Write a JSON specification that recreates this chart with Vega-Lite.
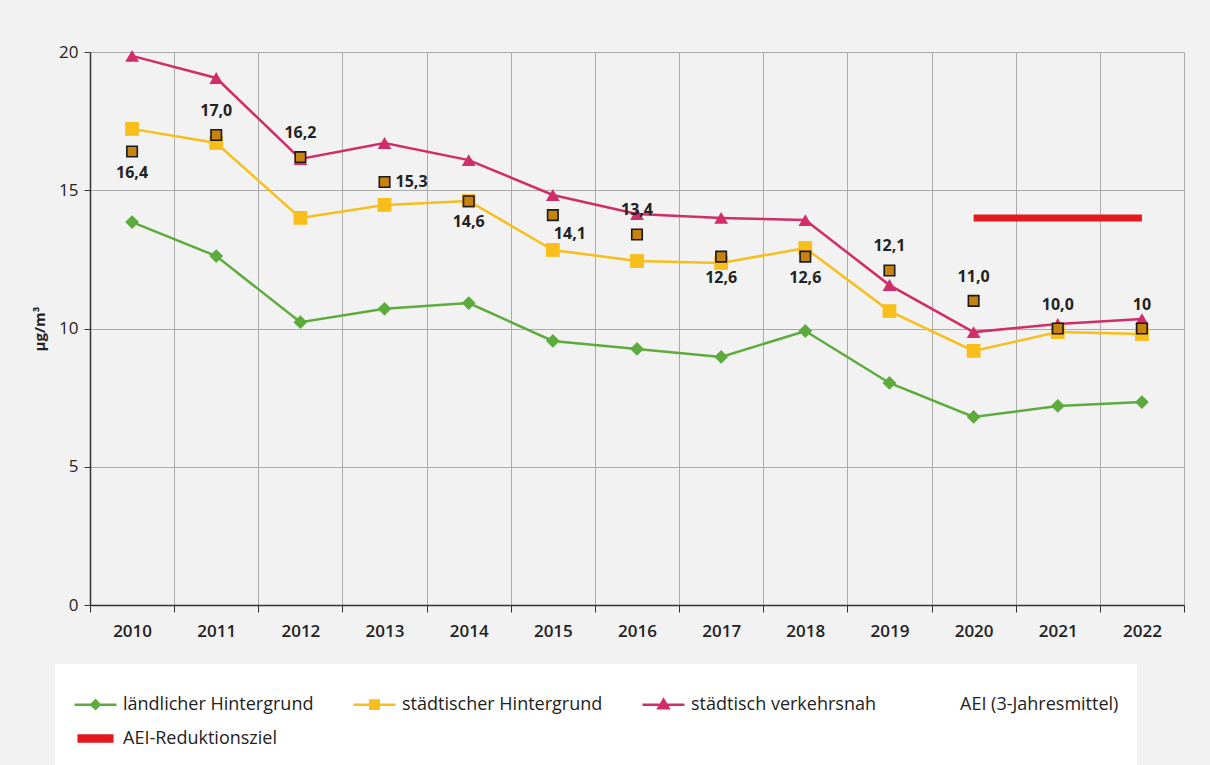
{
  "$schema": "https://vega.github.io/schema/vega-lite/v6.json",
  "width": 1094,
  "height": 553,
  "autosize": {"type": "none"},
  "padding": {"left": 90, "top": 52, "right": 26, "bottom": 160},
  "background": "#f2f2f2",
  "config": {
    "view": {"stroke": null, "fill": "#f2f2f2"},
    "font": "Open Sans"
  },
  "datasets": {
    "series": [
      {"year": "2010", "series": "ländlicher Hintergrund", "value": 13.85},
      {"year": "2011", "series": "ländlicher Hintergrund", "value": 12.62},
      {"year": "2012", "series": "ländlicher Hintergrund", "value": 10.23},
      {"year": "2013", "series": "ländlicher Hintergrund", "value": 10.71},
      {"year": "2014", "series": "ländlicher Hintergrund", "value": 10.92},
      {"year": "2015", "series": "ländlicher Hintergrund", "value": 9.55},
      {"year": "2016", "series": "ländlicher Hintergrund", "value": 9.26},
      {"year": "2017", "series": "ländlicher Hintergrund", "value": 8.97},
      {"year": "2018", "series": "ländlicher Hintergrund", "value": 9.91},
      {"year": "2019", "series": "ländlicher Hintergrund", "value": 8.03},
      {"year": "2020", "series": "ländlicher Hintergrund", "value": 6.8},
      {"year": "2021", "series": "ländlicher Hintergrund", "value": 7.2},
      {"year": "2022", "series": "ländlicher Hintergrund", "value": 7.34},
      {"year": "2010", "series": "städtischer Hintergrund", "value": 17.22},
      {"year": "2011", "series": "städtischer Hintergrund", "value": 16.71},
      {"year": "2012", "series": "städtischer Hintergrund", "value": 14.0},
      {"year": "2013", "series": "städtischer Hintergrund", "value": 14.47},
      {"year": "2014", "series": "städtischer Hintergrund", "value": 14.61},
      {"year": "2015", "series": "städtischer Hintergrund", "value": 12.84},
      {"year": "2016", "series": "städtischer Hintergrund", "value": 12.44},
      {"year": "2017", "series": "städtischer Hintergrund", "value": 12.37},
      {"year": "2018", "series": "städtischer Hintergrund", "value": 12.91},
      {"year": "2019", "series": "städtischer Hintergrund", "value": 10.63},
      {"year": "2020", "series": "städtischer Hintergrund", "value": 9.19},
      {"year": "2021", "series": "städtischer Hintergrund", "value": 9.87},
      {"year": "2022", "series": "städtischer Hintergrund", "value": 9.8},
      {"year": "2010", "series": "städtisch verkehrsnah", "value": 19.86},
      {"year": "2011", "series": "städtisch verkehrsnah", "value": 19.06},
      {"year": "2012", "series": "städtisch verkehrsnah", "value": 16.13},
      {"year": "2013", "series": "städtisch verkehrsnah", "value": 16.71},
      {"year": "2014", "series": "städtisch verkehrsnah", "value": 16.09},
      {"year": "2015", "series": "städtisch verkehrsnah", "value": 14.83},
      {"year": "2016", "series": "städtisch verkehrsnah", "value": 14.14},
      {"year": "2017", "series": "städtisch verkehrsnah", "value": 14.0},
      {"year": "2018", "series": "städtisch verkehrsnah", "value": 13.92},
      {"year": "2019", "series": "städtisch verkehrsnah", "value": 11.57},
      {"year": "2020", "series": "städtisch verkehrsnah", "value": 9.87},
      {"year": "2021", "series": "städtisch verkehrsnah", "value": 10.16},
      {"year": "2022", "series": "städtisch verkehrsnah", "value": 10.34}
    ],
    "aei": [
      {"year": "2010", "aei": 16.4, "label": "16,4"},
      {"year": "2011", "aei": 17.0, "label": "17,0"},
      {"year": "2012", "aei": 16.2, "label": "16,2"},
      {"year": "2013", "aei": 15.3, "label": "15,3"},
      {"year": "2014", "aei": 14.6, "label": "14,6"},
      {"year": "2015", "aei": 14.1, "label": "14,1"},
      {"year": "2016", "aei": 13.4, "label": "13,4"},
      {"year": "2017", "aei": 12.6, "label": "12,6"},
      {"year": "2018", "aei": 12.6, "label": "12,6"},
      {"year": "2019", "aei": 12.1, "label": "12,1"},
      {"year": "2020", "aei": 11.0, "label": "11,0"},
      {"year": "2021", "aei": 10.0, "label": "10,0"},
      {"year": "2022", "aei": 10.0, "label": "10"}
    ],
    "target": [
      {"year": "2020", "year2": "2022", "value": 14.0, "series": "AEI-Reduktionsziel"}
    ]
  },
  "encoding": {
    "x": {
      "field": "year", "type": "ordinal", "bandPosition": 0.5,
      "scale": {"type": "band", "paddingInner": 0, "paddingOuter": 0},
      "axis": {
        "title": null, "labelAngle": 0, "tickBand": "extent",
        "grid": true, "gridColor": "#ababab", "gridWidth": 1,
        "domainColor": "#333333", "domainWidth": 1.5,
        "tickColor": "#333333", "tickSize": 7, "tickWidth": 1,
        "labelFont": "Open Sans", "labelFontSize": 17, "labelFontWeight": 600,
        "labelColor": "#222222", "labelPadding": 11
      }
    }
  },
  "layer": [
    {
      "data": {"name": "series"},
      "mark": {"type": "line", "strokeWidth": 2.5},
      "encoding": {
        "y": {
          "field": "value", "type": "quantitative",
          "scale": {"domain": [0, 20], "nice": false},
          "axis": {
            "title": "µg/m³", "values": [0, 5, 10, 15, 20],
            "grid": true, "gridColor": "#ababab", "gridWidth": 1,
            "domainColor": "#333333", "domainWidth": 1.5,
            "tickColor": "#333333", "tickSize": 6,
            "labelFont": "Open Sans", "labelFontSize": 17, "labelFontWeight": 500,
            "labelColor": "#222222", "labelPadding": 6,
            "titleFont": "Open Sans", "titleFontSize": 15, "titleFontWeight": "bold",
            "titleColor": "#222222", "titlePadding": 11
          }
        },
        "color": {
          "field": "series", "type": "nominal",
          "scale": {
            "domain": ["ländlicher Hintergrund", "städtischer Hintergrund", "städtisch verkehrsnah", "AEI (3-Jahresmittel)", "AEI-Reduktionsziel"],
            "range": ["#5cab3c", "#f7be1c", "#d02d69", "rgba(0,0,0,0)", "#e3191c"]
          },
          "legend": {
            "title": null, "orient": "none", "legendX": -35, "legendY": 612,
            "direction": "horizontal", "columns": 4, "columnPadding": 34, "rowPadding": 2,
            "fillColor": "#ffffff", "padding": 18,
            "symbolSize": 1764, "symbolStrokeWidth": 2.5, "labelOffset": 5,
            "labelFont": "Open Sans", "labelFontSize": 18, "labelColor": "#222222",
            "labelLimit": 400,
            "encode": {
              "symbols": {
                "update": {
                  "shape": {"signal": "datum.index === 0 ? 'M-1,0H1M0,-0.2L0.2,0L0,0.2L-0.2,0Z' : datum.index === 1 ? 'M-1,0H1M-0.2,-0.2H0.2V0.2H-0.2Z' : datum.index === 2 ? 'M-1,0H1M0,-0.24L0.24,0.17H-0.24Z' : datum.index === 4 ? 'M-0.8,-0.14H0.8V0.14H-0.8Z' : 'M0,0'"},
                  "fill": {"scale": "color", "field": "value"},
                  "stroke": {"scale": "color", "field": "value"},
                  "strokeWidth": {"value": 2.5},
                  "opacity": {"value": 1}
                }
              }
            }
          }
        }
      }
    },
    {
      "data": {"name": "series"},
      "mark": {"type": "point", "filled": true, "opacity": 1, "size": 190},
      "encoding": {
        "y": {"field": "value", "type": "quantitative"},
        "color": {"field": "series", "type": "nominal"},
        "shape": {
          "field": "series", "type": "nominal",
          "scale": {"domain": ["ländlicher Hintergrund", "städtischer Hintergrund", "städtisch verkehrsnah"], "range": ["diamond", "square", "triangle-up"]},
          "legend": null
        }
      }
    },
    {
      "data": {"name": "target"},
      "mark": {"type": "rule", "strokeWidth": 7},
      "encoding": {
        "x": {"field": "year", "type": "ordinal", "bandPosition": 0.5},
        "x2": {"field": "year2", "bandPosition": 0.5},
        "y": {"field": "value", "type": "quantitative"},
        "color": {"field": "series", "type": "nominal"}
      }
    },
    {
      "data": {"name": "aei"},
      "mark": {"type": "square", "filled": true, "fill": "#c8820f", "stroke": "#1a1a1a", "strokeWidth": 1.6, "opacity": 1, "size": 110},
      "encoding": {
        "y": {"field": "aei", "type": "quantitative"}
      }
    },
    {
      "data": {"name": "aei"},
      "transform": [{"filter": {"field": "year", "oneOf": ["2011", "2012", "2016", "2019", "2020", "2021", "2022"]}}],
      "mark": {"type": "text", "dy": -24, "fontSize": 16, "fontWeight": "bold", "font": "Open Sans", "color": "#222222"},
      "encoding": {
        "y": {"field": "aei", "type": "quantitative"},
        "text": {"field": "label"}
      }
    },
    {
      "data": {"name": "aei"},
      "transform": [{"filter": {"field": "year", "oneOf": ["2010", "2014", "2017", "2018"]}}],
      "mark": {"type": "text", "dy": 21, "fontSize": 16, "fontWeight": "bold", "font": "Open Sans", "color": "#222222"},
      "encoding": {
        "y": {"field": "aei", "type": "quantitative"},
        "text": {"field": "label"}
      }
    },
    {
      "data": {"name": "aei"},
      "transform": [{"filter": {"field": "year", "oneOf": ["2013"]}}],
      "mark": {"type": "text", "dx": 11, "align": "left", "fontSize": 16, "fontWeight": "bold", "font": "Open Sans", "color": "#222222"},
      "encoding": {
        "y": {"field": "aei", "type": "quantitative"},
        "text": {"field": "label"}
      }
    },
    {
      "data": {"name": "aei"},
      "transform": [{"filter": {"field": "year", "oneOf": ["2015"]}}],
      "mark": {"type": "text", "dx": 17, "dy": 19, "fontSize": 16, "fontWeight": "bold", "font": "Open Sans", "color": "#222222"},
      "encoding": {
        "y": {"field": "aei", "type": "quantitative"},
        "text": {"field": "label"}
      }
    }
  ]
}
